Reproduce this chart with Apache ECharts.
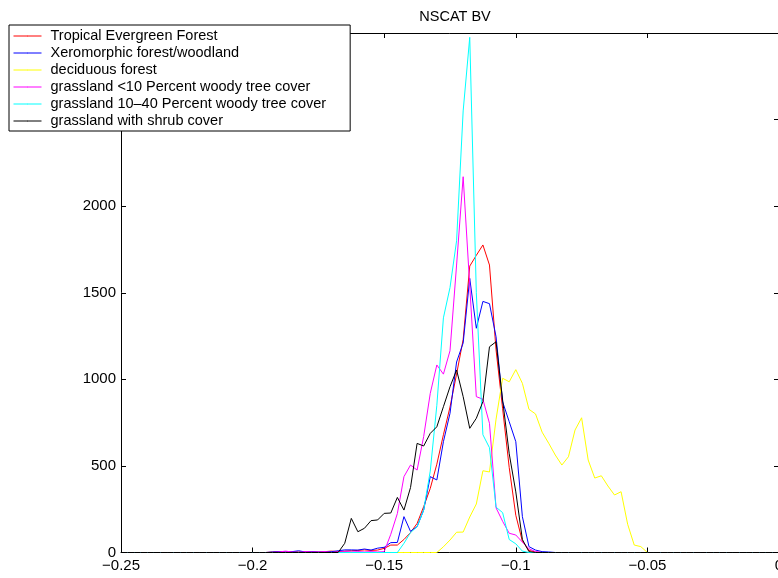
<!DOCTYPE html>
<html>
<head>
<meta charset="utf-8">
<script src="https://cdn.jsdelivr.net/npm/echarts@6/dist/echarts.min.js"></script>
<style>
html,body{margin:0;padding:0;background:#fff;overflow:hidden;}
#chart{width:778px;height:578px;}
</style>
</head>
<body>
<div id="chart"></div>
<script>
// bin positions (x)
const bins = [
-0.25,-0.2475,-0.245,-0.2425,-0.24,-0.2375,-0.235,-0.2325,-0.23,-0.2275,
-0.225,-0.2225,-0.22,-0.2175,-0.215,-0.2125,-0.21,-0.2075,-0.205,-0.2025,
-0.2,-0.1975,-0.195,-0.1925,-0.19,-0.1875,-0.185,-0.1825,-0.18,-0.1775,
-0.175,-0.1725,-0.17,-0.1675,-0.165,-0.1625,-0.16,-0.1575,-0.155,-0.1525,
-0.15,-0.1475,-0.145,-0.1425,-0.14,-0.1375,-0.135,-0.1325,-0.13,-0.1275,
-0.125,-0.1225,-0.12,-0.1175,-0.115,-0.1125,-0.11,-0.1075,-0.105,-0.1025,
-0.1,-0.0975,-0.095,-0.0925,-0.09,-0.0875,-0.085,-0.0825,-0.08,-0.0775,
-0.075,-0.0725,-0.07,-0.0675,-0.065,-0.0625,-0.06,-0.0575,-0.055,-0.0525,
-0.05,-0.0475,-0.045,-0.0425,-0.04,-0.0375,-0.035,-0.0325,-0.03,-0.0275,
-0.025,-0.0225,-0.02,-0.0175,-0.015,-0.0125,-0.01,-0.0075,-0.005,-0.0025,
0];

const names = [
  'Tropical Evergreen Forest',
  'Xeromorphic forest/woodland',
  'deciduous forest',
  'grassland <10 Percent woody tree cover',
  'grassland 10\u201340 Percent woody tree cover',
  'grassland with shrub cover'
];

const tropical = [
0,0,0,0,0,0,0,0,0,0,
0,0,0,0,0,0,0,0,0,0,
0,0,0,3,5,3,5,3,5,5,
3,5,8,5,8,10,12,15,12,14,
24,43,43,75,115,168,265,370,510,680,
840,1030,1230,1654,1716,1776,1660,1170,830,490,
215,65,12,3,0,0,0,0,0,0,
0,0,0,0,0,0,0,0,0,0,
0,0,0,0,0,0,0,0,0,0,
0,0,0,0,0,0,0,0,0,0,
0];

const xeromorphic = [
0,0,0,0,0,0,0,0,0,0,
0,0,0,0,0,0,0,0,0,0,
0,0,0,3,5,3,5,10,3,5,
3,3,5,10,15,15,14,20,14,25,
30,57,58,207,122,149,245,438,419,640,
804,1100,1210,1583,1295,1450,1437,1246,870,755,
640,207,34,14,5,3,0,0,0,0,
0,0,0,0,0,0,0,0,0,0,
0,0,0,0,0,0,0,0,0,0,
0,0,0,0,0,0,0,0,0,0,
0];

const deciduous = [
0,0,0,0,0,0,0,0,0,0,
0,0,0,0,0,0,0,0,0,0,
0,0,0,0,0,0,0,0,0,0,
0,0,0,0,0,0,0,0,0,0,
0,0,0,0,0,0,0,0,0,33,
72,117,118,205,280,472,465,770,1006,986,
1056,977,827,800,695,631,563,505,553,707,
778,534,430,443,384,332,351,163,43,34,
0,0,0,0,0,0,0,0,0,0,
0,0,0,0,0,0,0,0,0,0,
0];

const grassLt10 = [
0,0,0,0,0,0,0,0,0,0,
0,0,0,0,0,0,0,0,0,0,
0,0,0,0,3,8,3,0,5,3,
3,5,0,3,5,3,5,3,5,3,
5,105,225,438,505,476,670,919,1083,1030,
1165,1660,2170,1540,900,885,746,258,180,111,
101,60,22,5,0,0,0,0,0,0,
0,0,0,0,0,0,0,0,0,0,
0,0,0,0,0,0,0,0,0,0,
0,0,0,0,0,0,0,0,0,0,
0];

const grass10to40 = [
0,0,0,0,0,0,0,0,0,0,
0,0,0,0,0,0,0,0,0,0,
0,0,0,0,0,0,0,0,0,0,
0,0,0,0,0,0,0,0,0,0,
0,0,0,53,115,149,245,470,850,1355,
1530,1800,2550,2975,1500,680,605,262,230,75,
50,8,0,0,0,0,0,0,0,0,
0,0,0,0,0,0,0,0,0,0,
0,0,0,0,0,0,0,0,0,0,
0,0,0,0,0,0,0,0,0,0,
0];

const grassShrub = [
0,0,0,0,0,0,0,0,0,0,
0,0,0,0,0,0,0,0,0,0,
0,0,0,0,0,0,0,0,0,0,
0,0,0,0,53,197,120,140,184,188,
226,228,318,245,375,630,615,688,726,842,
957,1054,900,717,775,871,1188,1217,880,570,
350,75,5,0,0,0,0,0,0,0,
0,0,0,0,0,0,0,0,0,0,
0,0,0,0,0,0,0,0,0,0,
0,0,0,0,0,0,0,0,0,0,
0];

const colors = ['#ff0000','#0000ff','#ffff00','#ff00ff','#00ffff','#000000'];
const seriesValues = [tropical, xeromorphic, deciduous, grassLt10, grass10to40, grassShrub];

const xTickValues = [-0.25,-0.2,-0.15,-0.1,-0.05,0];
const xTickLabels = ['\u22120.25','\u22120.2','\u22120.15','\u22120.1','\u22120.05','0'];
const yTickLabels = ['0','500','1000','1500','2000','2500','3000'];

const FONT = 'Liberation Sans, Arial, Helvetica, sans-serif';

function xLabel(v){
  let best = 0, bd = 1e9;
  xTickValues.forEach((t,k)=>{ const d=Math.abs(t-v); if(d<bd){bd=d;best=k;} });
  return xTickLabels[best];
}
function yLabel(v){
  const k = Math.round(v/500);
  return yTickLabels[k] !== undefined ? yTickLabels[k] : String(v);
}

const axisLineStyle = {color:'#000', width:1};
const tickCommon = {show:true, inside:true, length:5, lineStyle:{color:'#000', width:1}};

const chart = echarts.init(document.getElementById('chart'), null, {renderer:'canvas'});
chart.setOption({
  animation:false,
  backgroundColor:'#ffffff',
  title:{
    text:'NSCAT BV',
    left:450, top:4, textAlign:'center',
    textStyle:{fontFamily:FONT, fontSize:14.5, fontWeight:'normal', color:'#000'}
  },
  grid:{left:121, top:33, width:658, height:519.5, containLabel:false, outerBoundsMode:'none'},
  legend:{
    show:true,
    orient:'vertical',
    left:9, top:25,
    padding:[2.5,24,1.5,4],
    itemGap:0,
    itemWidth:28,
    itemHeight:1,
    lineStyle:{width:1},
    backgroundColor:'#ffffff',
    borderColor:'#000',
    borderWidth:1,
    borderRadius:0,
    z:10,
    data:names,
    textStyle:{fontFamily:FONT, fontSize:14.5, color:'#000', lineHeight:17, padding:[0,0,0,4]}
  },
  xAxis:[
    {type:'value', position:'bottom', min:-0.25, max:0, interval:0.05,
     axisLine:{show:true, onZero:false, lineStyle:axisLineStyle},
     axisTick:tickCommon, splitLine:{show:false},
     axisLabel:{show:true, margin:6, formatter:xLabel, fontFamily:FONT, fontSize:15, color:'#000', showMaxLabel:true, showMinLabel:true}},
    {type:'value', position:'top', min:-0.25, max:0, interval:0.05,
     axisLine:{show:true, onZero:false, lineStyle:axisLineStyle},
     axisTick:tickCommon, splitLine:{show:false}, axisLabel:{show:false}}
  ],
  yAxis:[
    {type:'value', position:'left', min:0, max:3000, interval:500,
     axisLine:{show:true, onZero:false, lineStyle:axisLineStyle},
     axisTick:tickCommon, splitLine:{show:false},
     axisLabel:{show:true, margin:5, formatter:yLabel, fontFamily:FONT, fontSize:15, color:'#000'}},
    {type:'value', position:'right', min:0, max:3000, interval:500,
     axisLine:{show:true, onZero:false, lineStyle:axisLineStyle},
     axisTick:tickCommon, splitLine:{show:false}, axisLabel:{show:false}}
  ],
  series: names.map((n,k)=>({
    name:n,
    type:'line',
    xAxisIndex:0, yAxisIndex:0,
    symbol:'none', showSymbol:false,
    color:colors[k],
    lineStyle:{color:colors[k], width:1},
    itemStyle:{color:colors[k]},
    emphasis:{disabled:true},
    data: bins.map((x,i)=>[x, seriesValues[k][i]])
  }))
});
</script>
</body>
</html>
